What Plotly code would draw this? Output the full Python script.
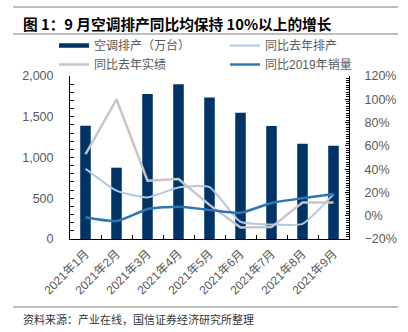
import plotly.graph_objects as go

months = ["2021年1月", "2021年2月", "2021年3月", "2021年4月", "2021年5月",
          "2021年6月", "2021年7月", "2021年8月", "2021年9月"]
production = [1390, 875, 1780, 1900, 1735, 1550, 1385, 1170, 1145]
yoy_production = [40.3, 21.5, 15.7, 24.3, 24.5, -5.2, -7.5, -7.0, 18.5]
yoy_actual = [52.8, 100.0, 30.0, 31.6, 9.3, -10.2, -9.8, 11.3, 11.3]
yoy_2019_sales = [-1.4, -4.6, 5.6, 7.8, 5.0, 2.6, 11.0, 15.0, 18.7]

W, H = 408, 332
ML, MR, MT, MB = 70, 59, 76, 93
PW, PH = W - ML - MR, H - MT - MB

def px_x(x):
    return (x - ML) / PW

def px_y(y):
    return (H - MB - y) / PH

NAVY = "#003366"
LIGHT = "#B0C7E6"
GREY = "#C6C6C6"
BLUE = "#2E75B6"
TXT = "#595959"
FONT = "Liberation Sans, Arial, Noto Sans CJK SC, sans-serif"
CJK = "Noto Sans CJK SC, sans-serif"

fig = go.Figure()
fig.add_trace(go.Bar(x=months, y=production, name="空调排产（万台）",
                     marker=dict(color=NAVY, line=dict(width=0)),
                     showlegend=False, yaxis="y"))
# legend swatch for bars (flat bar like the reference)
fig.add_trace(go.Scatter(x=[None], y=[None], mode="lines", name="空调排产（万台）",
                         line=dict(color=NAVY, width=4.5), yaxis="y"))
fig.add_trace(go.Scatter(x=months, y=yoy_production, name="同比去年排产", mode="lines",
                         line=dict(color=LIGHT, width=2, shape="spline", smoothing=0.5),
                         yaxis="y2"))
fig.add_trace(go.Scatter(x=months, y=yoy_actual, name="同比去年实绩", mode="lines",
                         line=dict(color=GREY, width=2.5), yaxis="y2"))
fig.add_trace(go.Scatter(x=months, y=yoy_2019_sales, name="同比2019年销量", mode="lines",
                         line=dict(color=BLUE, width=2.5, shape="spline", smoothing=0.6),
                         yaxis="y2"))

fig.update_layout(
    width=W, height=H,
    margin=dict(l=ML, r=MR, t=MT, b=MB, pad=0),
    paper_bgcolor="white", plot_bgcolor="white",
    font=dict(family=FONT, size=12, color=TXT),
    bargap=0.66,
    showlegend=True,
    legend=dict(orientation="h", x=px_x(54), y=px_y(31), xanchor="left", yanchor="top",
                entrywidth=126, entrywidthmode="pixels", traceorder="normal",
                font=dict(size=12, color=TXT, family=FONT),
                bgcolor="rgba(0,0,0,0)", itemwidth=30, tracegroupgap=0),
    xaxis=dict(type="category", showline=True, linecolor="#000000", linewidth=1,
               ticks="inside", ticklen=4, tickcolor="#000000", tickson="boundaries",
               tickangle=-45, tickfont=dict(size=12, color=TXT),
               showgrid=False, zeroline=False, ticklabelstandoff=2),
    yaxis=dict(range=[0, 2000], dtick=500, tickformat=",d", showline=True,
               linecolor="#000000", linewidth=1, ticks="inside", ticklen=4,
               tickcolor="#000000", showgrid=False, zeroline=False,
               tickfont=dict(size=12.5, color=TXT), ticklabelstandoff=13,
               minor=dict(dtick=100, ticks="inside", ticklen=4, tickcolor="#000000",
                          showgrid=False)),
    yaxis2=dict(range=[-20, 120], dtick=20, ticksuffix="%", overlaying="y", side="right",
                showline=True, linecolor="#000000", linewidth=1, ticks="inside",
                ticklen=4, tickcolor="#000000", showgrid=False, zeroline=False,
                tickfont=dict(size=12.5, color=TXT), ticklabelstandoff=12,
                minor=dict(dtick=2, ticks="inside", ticklen=3, tickcolor="#000000",
                           showgrid=False)),
)

line_style = dict(color="#7F7F7F", width=1)
for yy in (7, 34, 307):
    fig.add_shape(type="line", xref="paper", yref="paper",
                  x0=px_x(13), x1=px_x(398), y0=px_y(yy), y1=px_y(yy), line=line_style)

fig.add_annotation(text="<b>图 1：9 月空调排产同比均保持 10%以上的增长</b>",
                   xref="paper", yref="paper", x=px_x(21), y=px_y(23),
                   xanchor="left", yanchor="middle", showarrow=False,
                   font=dict(size=14.7, color="#000000", family=CJK))
fig.add_annotation(text="资料来源：产业在线，国信证券经济研究所整理",
                   xref="paper", yref="paper", x=px_x(21), y=px_y(319),
                   xanchor="left", yanchor="middle", showarrow=False,
                   font=dict(size=11, color="#333333", family=CJK))

fig.write_html("out.html")
